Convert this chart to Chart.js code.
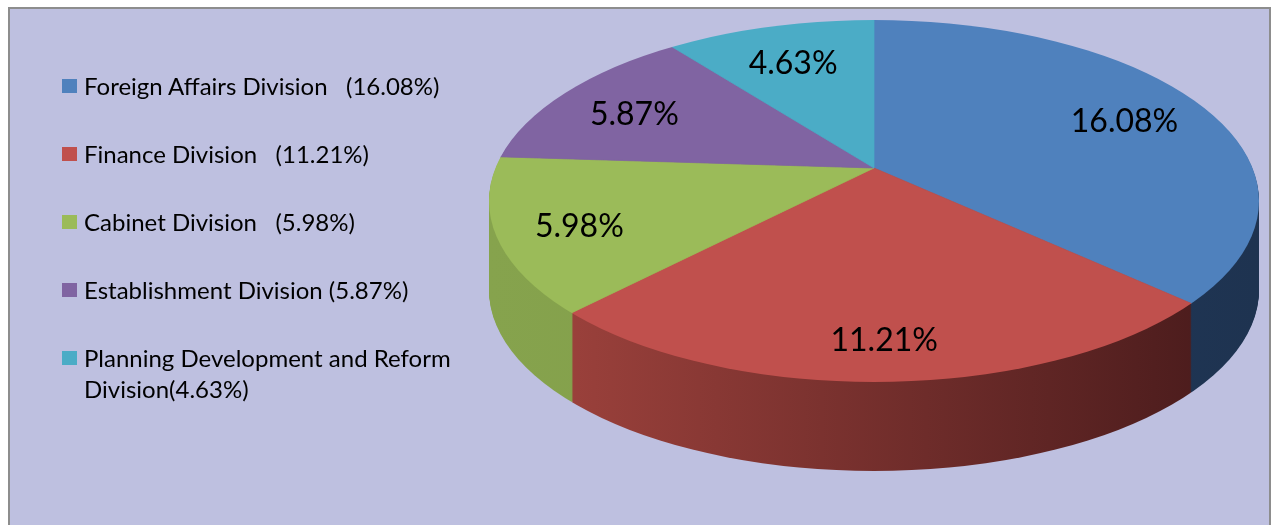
<!DOCTYPE html>
<html>
<head>
<meta charset="utf-8">
<script src="https://cdn.jsdelivr.net/npm/chart.js@4/dist/chart.umd.min.js"></script>
<style>
  html, body { margin: 0; padding: 0; background: #fff; width: 1274px; height: 525px; overflow: hidden; }
  #frame { position: absolute; left: 8px; top: 7px; width: 1263px; height: 540px; box-sizing: border-box;
           background: #bec0e0; border: 2px solid #8d8d8d; }
  #box { position: absolute; left: 0; top: 0; width: 1274px; height: 525px; }
  #legend { position: absolute; left: 62px; top: 70px; width: 420px; font-family: Lato, sans-serif; font-size: 24px; color: #000; }
  .item { position: relative; padding-left: 22px; line-height: 31px; margin-bottom: 37px; white-space: pre-wrap; }
  .swatch { position: absolute; left: 0; top: 9px; width: 15px; height: 14px; }
</style>
</head>
<body>
<div id="frame"></div>
<div id="box"><canvas id="graficoPizza"></canvas></div>
<div id="legend"></div>
<script>
// dados
const divisions = ['Foreign Affairs Division', 'Finance Division', 'Cabinet Division', 'Establishment Division', 'Planning Development and Reform Division'];
const shares = [16.08, 11.21, 5.98, 5.87, 4.63];
const legendGaps = ['   ', '   ', '   ', ' ', ''];
const topColors = ['#4f81bd', '#c0504d', '#9bbb59', '#8064a2', '#4bacc6'];
// side wall colours, left -> right
const sideColors = [
  ['#24406a', '#1e3350'],
  ['#a4453f', '#45191a'],
  ['#86a34d', '#7b9545'],
  ['#5f4a7a', '#4a3a60'],
  ['#3a8599', '#2c6878']
];

// 3D look
const tilt = 0.47;      // vertical squash of the pie
const rimRadius = 385;  // visible radius of the disc
const shift = 33;       // perspective: rim centre sits this far below the pie centre
const depth = 89;       // thickness in px
const labelPos = 0.78;
const labelDrop = 6;

// legenda em HTML
const legendEl = document.getElementById('legend');
divisions.forEach((d, i) => {
  const item = document.createElement('div');
  item.className = 'item';
  const sw = document.createElement('span');
  sw.className = 'swatch';
  sw.style.background = topColors[i];
  item.appendChild(sw);
  item.appendChild(document.createTextNode(d + legendGaps[i] + '(' + shares[i].toFixed(2) + '%)'));
  legendEl.appendChild(item);
});

function clipDisc(ctx, cx, cy) {
  ctx.beginPath();
  ctx.arc(cx, cy + shift / tilt, rimRadius, 0, Math.PI * 2);
  ctx.clip();
}

const pie3d = {
  id: 'pie3d',
  beforeDatasetsDraw(chart) {
    const ctx = chart.ctx;
    const arcs = chart.getDatasetMeta(0).data;
    const cx = arcs[0].x, cy = arcs[0].y;
    ctx.save();
    ctx.translate(cx, cy);
    ctx.scale(1, tilt);
    ctx.translate(-cx, -cy);
    const grads = arcs.map((arc, i) => {
      const g = ctx.createLinearGradient(cx - rimRadius, 0, cx + rimRadius, 0);
      g.addColorStop(0, sideColors[i][0]);
      g.addColorStop(1, sideColors[i][1]);
      return g;
    });
    // parede lateral
    for (let d = depth; d > 0; d--) {
      ctx.save();
      ctx.translate(0, d / tilt);
      clipDisc(ctx, cx, cy);
      arcs.forEach((arc, i) => {
        const fake = Object.create(arc);
        fake.options = Object.assign({}, arc.options, { backgroundColor: grads[i], borderWidth: 0 });
        arc.draw.call(fake, ctx);
      });
      ctx.restore();
    }
    // topo
    clipDisc(ctx, cx, cy);
  },
  afterDatasetsDraw(chart) {
    const ctx = chart.ctx;
    ctx.restore();
    const arcs = chart.getDatasetMeta(0).data;
    const s = shift / tilt;
    ctx.save();
    ctx.font = '32px Lato';
    ctx.fillStyle = '#000';
    ctx.textAlign = 'center';
    ctx.textBaseline = 'middle';
    arcs.forEach((arc, i) => {
      const mid = (arc.startAngle + arc.endAngle) / 2;
      const sy = Math.sin(mid);
      const t = s * sy + Math.sqrt(s * s * sy * sy + rimRadius * rimRadius - s * s);
      const x = arc.x + Math.cos(mid) * t * labelPos;
      const y = arc.y + sy * t * labelPos * tilt + labelDrop;
      ctx.fillText(shares[i].toFixed(2) + '%', x, y);
    });
    ctx.restore();
  }
};

const ctx = document.getElementById('graficoPizza').getContext('2d');
new Chart(ctx, {
  type: 'pie',
  data: {
    labels: divisions,
    datasets: [{
      data: shares,
      backgroundColor: topColors,
      borderColor: topColors,
      borderWidth: 1,
      radius: 470,
      clip: false
    }]
  },
  options: {
    responsive: true,
    maintainAspectRatio: false,
    animation: false,
    events: [],
    layout: { padding: { left: 474, right: 0, top: 0, bottom: 189 } },
    plugins: {
      legend: { display: false },
      tooltip: { enabled: false }
    }
  },
  plugins: [pie3d]
});
</script>
</body>
</html>
